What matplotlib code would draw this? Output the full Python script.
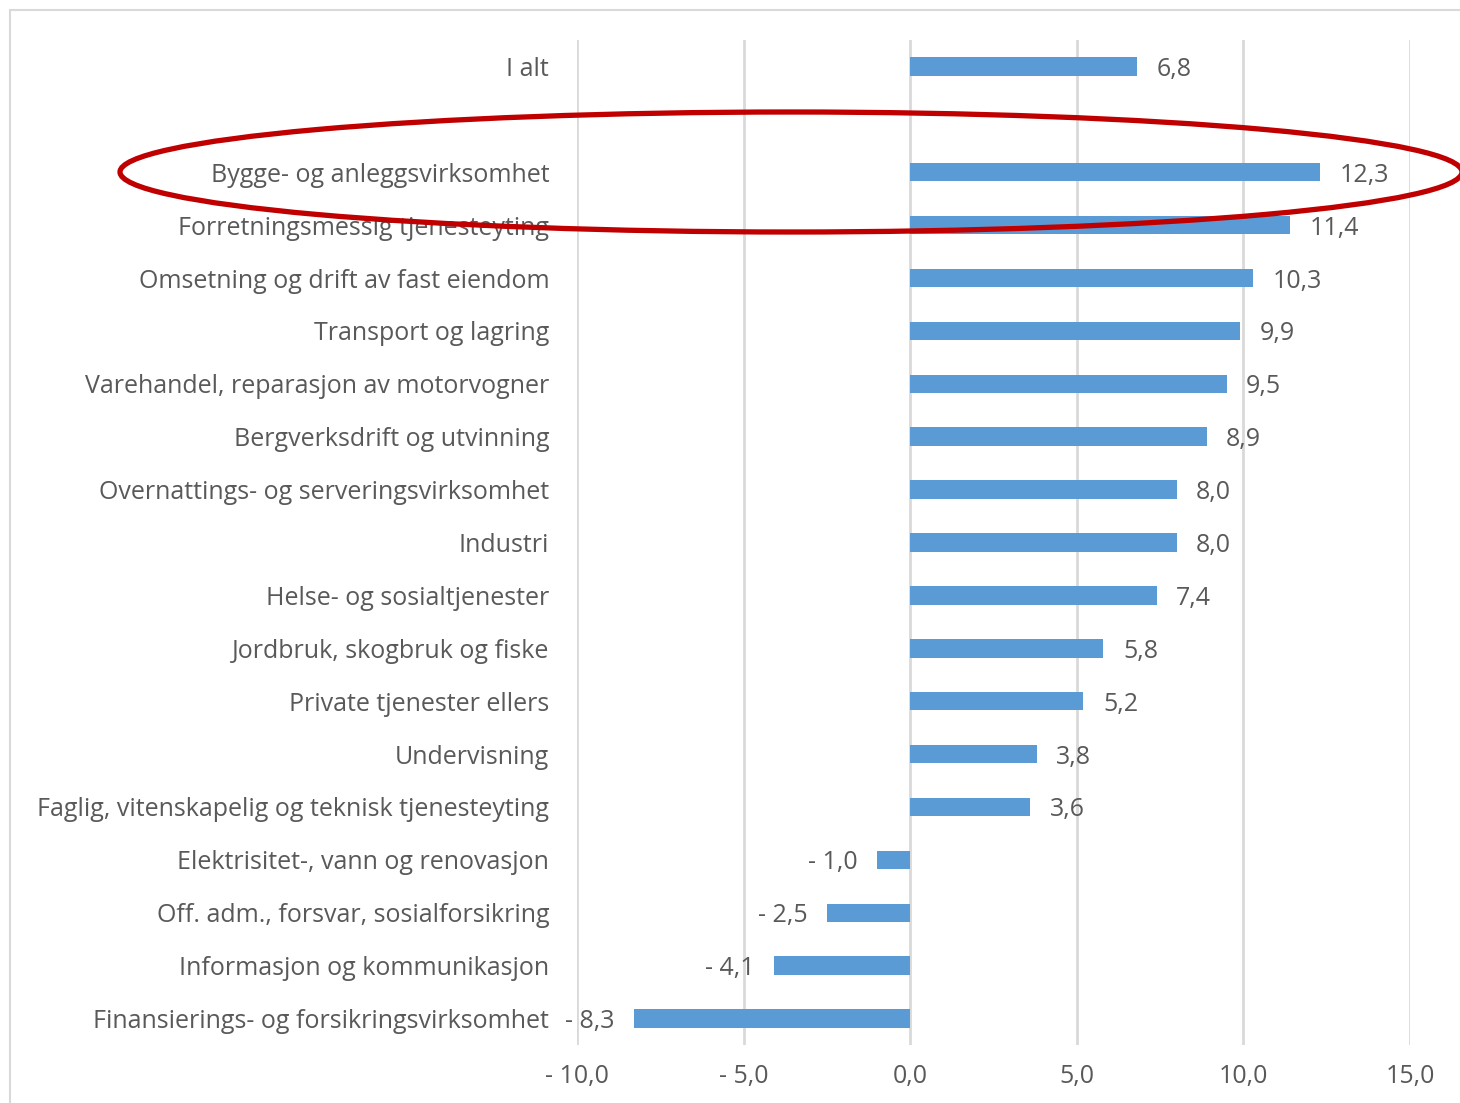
import matplotlib.pyplot as plt
from matplotlib.patches import Ellipse, Rectangle

# --- data ---
categories = [
    'I alt',
    '',
    'Bygge- og anleggsvirksomhet',
    'Forretningsmessig tjenesteyting',
    'Omsetning og drift av fast eiendom',
    'Transport og lagring',
    'Varehandel, reparasjon av motorvogner',
    'Bergverksdrift og utvinning',
    'Overnattings- og serveringsvirksomhet',
    'Industri',
    'Helse- og sosialtjenester',
    'Jordbruk, skogbruk og fiske',
    'Private tjenester ellers',
    'Undervisning',
    'Faglig, vitenskapelig og teknisk tjenesteyting',
    'Elektrisitet-, vann og renovasjon',
    'Off. adm., forsvar, sosialforsikring',
    'Informasjon og kommunikasjon',
    'Finansierings- og forsikringsvirksomhet',
]
values = [6.8, None, 12.3, 11.4, 10.3, 9.9, 9.5, 8.9, 8.0, 8.0, 7.4,
          5.8, 5.2, 3.8, 3.6, -1.0, -2.5, -4.1, -8.3]
x_ticks = [-10, -5, 0, 5, 10, 15]


def fmt(v):
    s = f'{abs(v):.1f}'.replace('.', ',')
    return '- ' + s if v < 0 else s


plt.rcParams['font.family'] = ['Open Sans', 'DejaVu Sans']
text_color = '#595959'
bar_color = '#5B9BD5'
fs = 18

W, H = 1460, 1103
fig = plt.figure(figsize=(W / 100, H / 100), dpi=100)
ax = fig.add_axes([577 / W, 1 - 1045 / H, (1410 - 577) / W, (1045 - 40) / H])

pos = list(range(len(categories)))
for i, v in zip(pos, values):
    if v is None:
        continue
    ax.barh(i, v, height=0.35, color=bar_color, zorder=3)
    if v >= 0:
        ax.annotate(fmt(v), (v, i), xytext=(14, 0), textcoords='offset points',
                    ha='left', va='center_baseline', fontsize=fs, color=text_color)
    else:
        ax.annotate(fmt(v), (v, i), xytext=(-14, 0), textcoords='offset points',
                    ha='right', va='center_baseline', fontsize=fs, color=text_color)

ax.set_xlim(-10, 15)
ax.set_ylim(18.5, -0.5)
ax.set_xticks(x_ticks)
ax.set_xticklabels([fmt(t) for t in x_ticks], fontsize=fs, color=text_color)
ax.set_yticks(pos)
ax.set_yticklabels(categories, fontsize=fs, color=text_color)
ax.tick_params(axis='y', length=0, pad=20)
ax.tick_params(axis='x', length=0, pad=14)
ax.grid(axis='x', color='#D9D9D9', linewidth=2, zorder=0)
for s in ax.spines.values():
    s.set_visible(False)

# outer chart frame
fig.patches.append(Rectangle((10 / W, -0.1), 1.2, 1 - 10 / H + 0.1,
                             transform=fig.transFigure, fill=False,
                             edgecolor='#D9D9D9', linewidth=1.5))

# red highlight ellipse
fig.patches.append(Ellipse((791 / W, 1 - 172 / H), 1342 / W, 120 / H,
                           transform=fig.transFigure, fill=False,
                           edgecolor='#C00000', linewidth=3.8, zorder=10))

fig.savefig('out.png', dpi=100)
